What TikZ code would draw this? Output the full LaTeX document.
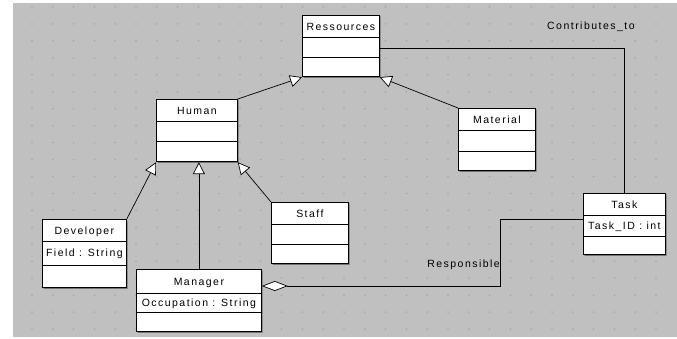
\documentclass[tikz,border=0pt]{standalone}
\usepackage{fontspec}
\newfontfamily\umlfont[LetterSpace=14]{Liberation Sans}
\usetikzlibrary{shapes.multipart, arrows.meta, shadows}
\definecolor{canvasgrey}{HTML}{C0C0C0}
\definecolor{dotgrey}{HTML}{A6A6A6}
% one compartment of a class box, #1 = height
\newcommand\cp[2]{\rule[\dimexpr 3.8pt-#1/2\relax]{0pt}{#1}#2}

\begin{document}
\begin{tikzpicture}[x=1pt, y=-1pt,
  umlclass/.style={rectangle split, rectangle split parts=3, draw, fill=white,
    anchor=north west, inner xsep=1pt, inner ysep=0pt, line width=0.8pt,
    font=\umlfont\fontsize{10.5}{12}\selectfont,
    drop shadow={shadow xshift=1.1pt, shadow yshift=-1.1pt, fill=black!55, opacity=1}},
  gen/.style={-{Triangle[open, fill=white, length=12pt, width=12pt]}, line width=0.7pt},
  agg/.style={{Diamond[open, fill=white, length=26pt, width=10pt]}-, line width=0.7pt},
  lbl/.style={inner sep=0pt, font=\umlfont\fontsize{10.5}{12}\selectfont}]
\useasboundingbox (0, 0) rectangle (677, 339);
\fill [canvasgrey] (13, 3) rectangle (677, 336.5);
%grid of dots
\foreach \i in {0,...,30}
  \foreach \j in {0,...,19}
    \fill [dotgrey] (32+20.8*\i, 7+16.95*\j) circle (0.9pt);

\node at (302, 15) [umlclass, minimum width=77pt] (res)
  {\cp{21pt}{Ressources} \nodepart{two} \cp{19pt}{} \nodepart{three} \cp{19pt}{}};
\node at (156, 99) [umlclass, minimum width=81pt] (hum)
  {\cp{21pt}{Human} \nodepart{two} \cp{19pt}{} \nodepart{three} \cp{20pt}{}};
\node at (458, 108) [umlclass, minimum width=77pt] (mat)
  {\cp{21pt}{Material} \nodepart{two} \cp{20pt}{} \nodepart{three} \cp{19pt}{}};
\node at (42, 219) [umlclass, minimum width=84pt] (dev)
  {\cp{21pt}{Developer} \nodepart{two} \cp{23pt}{Field : String} \nodepart{three} \cp{22pt}{}};
\node at (271, 202) [umlclass, minimum width=77pt] (sta)
  {\cp{21pt}{Staff} \nodepart{two} \cp{19pt}{} \nodepart{three} \cp{19pt}{}};
\node at (136, 269) [umlclass, minimum width=125pt] (man)
  {\cp{23pt}{Manager} \nodepart{two} \cp{18pt}{Occupation : String} \nodepart{three} \cp{19pt}{}};
\node at (583, 193) [umlclass, minimum width=82pt] (tsk)
  {\cp{21pt}{Task} \nodepart{two} \cp{20pt}{Task\_ID : int} \nodepart{three} \cp{18pt}{}};

%generalisations
\draw [gen] (hum.north east) -- (res.south west);
\draw [gen] (mat.north west) -- (res.south east);
\draw [gen] (dev.north east) -- (hum.south west);
\draw [gen] (man.north) -- (man.north |- hum.south);
\draw [gen] (sta.north west) -- (hum.south east);

%associations
\draw [line width=0.7pt] ([yshift=-33pt]res.north east) -| (tsk.north);
\node at (547, 29.5) [lbl, anchor=base west] (contlbl) {Contributes\_to};
\draw [agg] ([yshift=-17pt]man.north east) -- ++(239, 0) |- ([yshift=-26pt]tsk.north west);
\node at (500, 267) [lbl, anchor=base east] (resplbl) {Responsible};
\end{tikzpicture}
\end{document}
